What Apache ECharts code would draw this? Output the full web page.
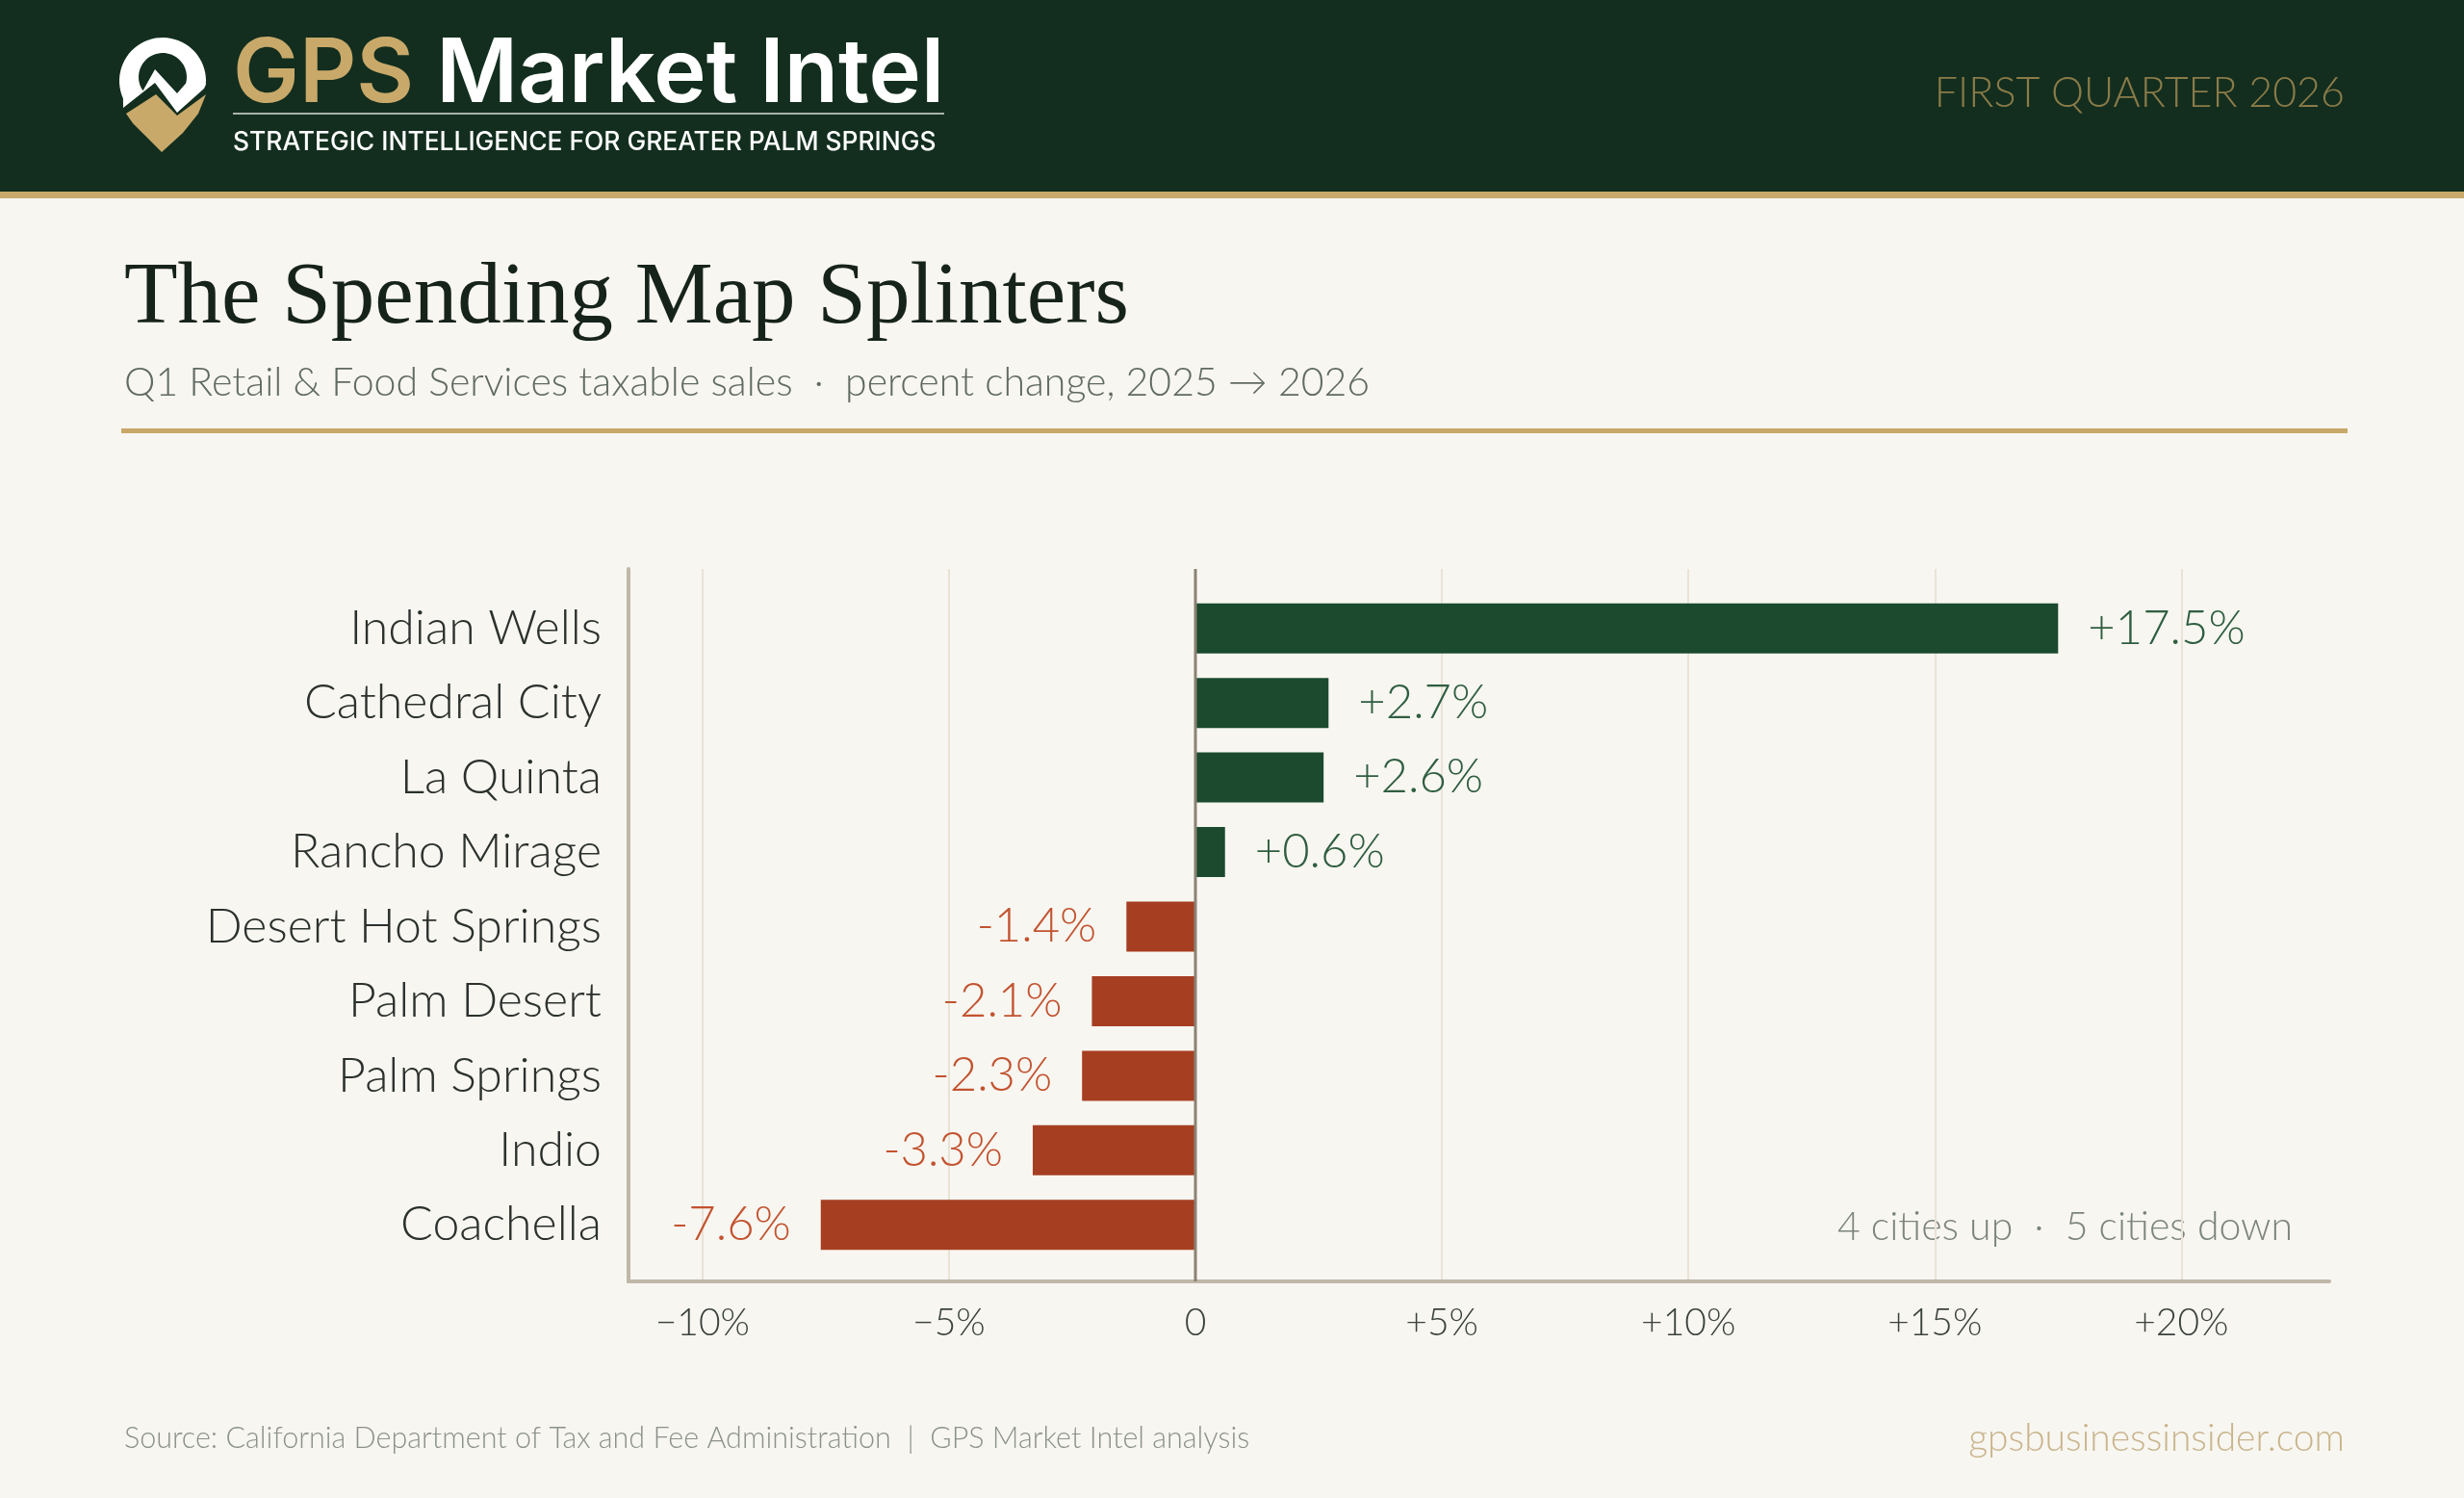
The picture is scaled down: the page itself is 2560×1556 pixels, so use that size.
<!DOCTYPE html>
<html>
<head>
<meta charset="utf-8">
<title>The Spending Map Splinters</title>
<script src="https://cdn.jsdelivr.net/npm/echarts@6/dist/echarts.min.js"></script>
<style>
  html, body { margin: 0; padding: 0; background: #f8f6f1; }
  #chart { width: 2560px; height: 1556px; }
</style>
</head>
<body>
<div id="chart"></div>
<script>
// data
const cities = ["Indian Wells", "Cathedral City", "La Quinta", "Rancho Mirage", "Desert Hot Springs", "Palm Desert", "Palm Springs", "Indio", "Coachella"];
const changePct = [17.5, 2.7, 2.6, 0.6, -1.4, -2.1, -2.3, -3.3, -7.6];
const tickValues = [-10, -5, 0, 5, 10, 15, 20];
const tickLabels = ["\u221210%", "\u22125%", "0", "+5%", "+10%", "+15%", "+20%"];
const zeroLine = [[0, 0], [0, 1]];

const SANS = "Lato, Roboto, sans-serif";
const GREEN = "#1b4a2e";
const RED = "#a63e22";

const upCount = changePct.filter(v => v > 0).length;
const downCount = changePct.filter(v => v < 0).length;

// logo arc helper (decoration only)
function arcPts(cx, cy, r, a0, a1, n) {
  const pts = [];
  for (let i = 0; i <= n; i++) {
    const a = (a0 + (a1 - a0) * i / n) * Math.PI / 180;
    pts.push([cx + r * Math.cos(a), cy - r * Math.sin(a)]);
  }
  return pts;
}
const logoWhite = arcPts(169, 84, 45, 204, -5, 40).concat([[212, 92], [184, 117], [161, 86], [128, 112]]);
const logoHole = arcPts(169, 80, 25, 215, -15, 30).concat([[184, 97], [161, 72]]);
const logoGold = [[131, 118], [162, 98], [184, 120], [214, 98], [206, 118], [190, 138], [168, 158], [150, 140], [138, 128]];

const chart = echarts.init(document.getElementById("chart"), null, { renderer: "canvas" });

const option = {
  backgroundColor: "#f8f6f1",
  animation: false,
  grid: [
    { left: 653, right: 140, top: 591, bottom: 225 },   // frame + gridlines
    { left: 653, right: 140, top: 614, bottom: 245 }    // bars
  ],
  xAxis: [
    {
      gridIndex: 0,
      type: "value",
      min: -11.5,
      max: 23,
      axisLine: { show: true, onZero: false, lineStyle: { color: "#bfb7a8", width: 4 } },
      axisTick: { show: false, customValues: tickValues },
      axisLabel: {
        customValues: tickValues,
        formatter: v => tickLabels[tickValues.indexOf(v)],
        fontFamily: SANS,
        fontWeight: 300,
        fontSize: 39,
        color: "#3a423d",
        margin: 24
      },
      splitLine: { show: true, lineStyle: { color: "#e9e3d6", width: 2 } }
    },
    { gridIndex: 1, type: "value", min: -11.5, max: 23, show: false }
  ],
  yAxis: [
    {
      gridIndex: 0,
      type: "value",
      min: 0,
      max: 1,
      axisLine: { show: true, onZero: false, lineStyle: { color: "#bfb7a8", width: 4 } },
      axisTick: { show: false },
      axisLabel: { show: false },
      splitLine: { show: false }
    },
    {
      gridIndex: 1,
      type: "category",
      data: cities,
      inverse: true,
      axisLine: { show: false },
      axisTick: { show: false },
      axisLabel: { fontFamily: SANS, fontWeight: 300, fontSize: 50, color: "#2b312d", margin: 28 }
    }
  ],
  series: [
    {
      type: "line",
      xAxisIndex: 0,
      yAxisIndex: 0,
      data: zeroLine,
      symbol: "none",
      silent: true,
      z: 5,
      lineStyle: { color: "#8a8273", width: 3 }
    },
    {
      type: "bar",
      xAxisIndex: 1,
      yAxisIndex: 1,
      barWidth: 52,
      data: changePct.map(v => ({
        value: v,
        itemStyle: { color: v >= 0 ? GREEN : RED },
        label: { position: v >= 0 ? "right" : "left", color: v >= 0 ? "#2f5e40" : "#c2532f" }
      })),
      label: {
        show: true,
        distance: 31,
        fontFamily: SANS,
        fontWeight: 300,
        fontSize: 49,
        formatter: p => (p.value > 0 ? "+" : "") + p.value.toFixed(1) + "%"
      }
    }
  ],
  graphic: [
    // header band
    { type: "rect", shape: { x: 0, y: 0, width: 2560, height: 199 }, style: { fill: "#132e1e" }, silent: true },
    { type: "rect", shape: { x: 0, y: 199, width: 2560, height: 7 }, style: { fill: "#c8a96a" }, silent: true },
    // logo
    { type: "polygon", shape: { points: logoWhite }, style: { fill: "#ffffff" }, silent: true },
    { type: "polygon", shape: { points: logoHole }, style: { fill: "#132e1e" }, silent: true },
    { type: "polygon", shape: { points: logoGold }, style: { fill: "#c8a96a" }, silent: true },
    {
      type: "text", x: 242, y: 78, silent: true,
      style: {
        text: "{g|GPS}{w| Market Intel}",
        verticalAlign: "middle",
        rich: {
          g: { fill: "#c8a96a", fontFamily: "Inter, sans-serif", fontWeight: 600, fontSize: 92 },
          w: { fill: "#ffffff", fontFamily: "Inter, sans-serif", fontWeight: 600, fontSize: 92 }
        }
      }
    },
    { type: "rect", shape: { x: 242, y: 117, width: 739, height: 2 }, style: { fill: "#aab3a7" }, silent: true },
    {
      type: "text", x: 242, y: 148, silent: true,
      style: { text: "STRATEGIC INTELLIGENCE FOR GREATER PALM SPRINGS", fill: "#ffffff", fontFamily: "Inter, sans-serif", fontWeight: 500, fontSize: 26.4, verticalAlign: "middle" }
    },
    {
      type: "text", x: 2436, y: 97, silent: true,
      style: { text: "FIRST QUARTER 2026", fill: "#8a7b48", fontFamily: "Lato, sans-serif", fontWeight: 300, fontSize: 43, verticalAlign: "middle", align: "right" }
    },
    // titles
    {
      type: "text", x: 129, y: 311, silent: true,
      style: { text: "The Spending Map Splinters", fill: "#16231b", fontFamily: "'Liberation Serif', serif", fontSize: 91, verticalAlign: "middle" }
    },
    {
      type: "text", x: 129, y: 398, silent: true,
      style: { text: "Q1 Retail & Food Services taxable sales  \u00b7  percent change, 2025 \u2192 2026", fill: "#5f6a62", fontFamily: SANS, fontWeight: 300, fontSize: 41, verticalAlign: "middle" }
    },
    { type: "rect", shape: { x: 126, y: 445, width: 2313, height: 5 }, style: { fill: "#c8a96a" }, silent: true },
    // annotation
    {
      type: "text", x: 2382, y: 1275, silent: true,
      style: { text: upCount + " cities up  \u00b7  " + downCount + " cities down", fill: "#7b847d", fontFamily: SANS, fontWeight: 300, fontSize: 41, verticalAlign: "middle", align: "right" }
    },
    // footer
    {
      type: "text", x: 129, y: 1494, silent: true,
      style: { text: "Source: California Department of Tax and Fee Administration  |  GPS Market Intel analysis", fill: "#8b918b", fontFamily: SANS, fontWeight: 300, fontSize: 30.5, verticalAlign: "middle" }
    },
    {
      type: "text", x: 2436, y: 1494, silent: true,
      style: { text: "gpsbusinessinsider.com", fill: "#c9b48c", fontFamily: "Lato, sans-serif", fontWeight: 300, fontSize: 39, verticalAlign: "middle", align: "right" }
    }
  ]
};

chart.setOption(option);
</script>
</body>
</html>
